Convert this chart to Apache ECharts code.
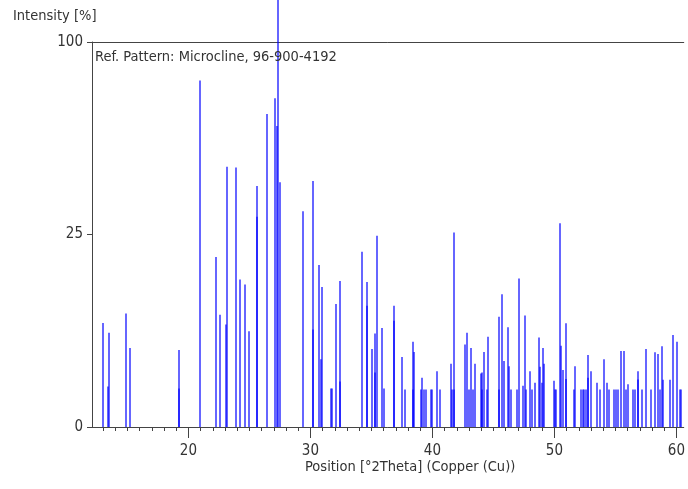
<!DOCTYPE html>
<html lang="en">
  <head>
    <meta charset="UTF-8" />
    <title>Microcline reference pattern</title>
    <style>
      html, body { margin: 0; padding: 0; background: #fff; }
      #chart { width: 688px; height: 489px; }
    </style>
  </head>
  <body>
    <div id="chart"></div>
    <script src="https://cdn.jsdelivr.net/npm/echarts@6/dist/echarts.min.js"></script>
    <script>
      // peak positions [°2Theta] and relative intensities [%]
      var peakPositions = [
        12.97, 13.43, 13.48, 14.85, 15.18, 19.2, 19.25, 20.97, 22.25, 22.6,
        23.05, 23.13, 23.9, 24.22, 24.66, 24.93, 25.59, 25.62, 26.46, 27.09,
        27.28, 27.36, 27.5, 29.41, 30.2, 30.23, 30.7, 30.88, 30.92, 31.7,
        31.78, 32.12, 32.4, 32.45, 34.2, 34.6, 34.66, 35.07, 35.29, 35.33,
        35.5, 35.84, 36.05, 36.82, 36.85, 37.47, 37.72, 38.38, 38.43, 38.47,
        39.03, 39.14, 39.3, 39.45, 39.9, 40.0, 40.4, 40.64, 41.49, 41.6,
        41.74, 41.8, 42.69, 42.85, 43.0, 43.16, 43.34, 43.48, 43.95, 44.06,
        44.1, 44.25, 44.5, 44.57, 45.43, 45.48, 45.67, 45.89, 46.22, 46.26,
        46.46, 46.9, 47.09, 47.42, 47.56, 47.66, 47.99, 48.18, 48.4, 48.75,
        48.8, 48.98, 49.08, 49.13, 49.93, 50.03, 50.13, 50.48, 50.52, 50.72,
        50.92, 50.97, 51.62, 51.7, 52.2, 52.33, 52.45, 52.57, 52.72, 52.76,
        52.99, 53.46, 53.7, 54.08, 54.33, 54.47, 54.9, 55.05, 55.2, 55.42,
        55.67, 55.86, 56.05, 56.46, 56.6, 56.82, 56.87, 57.15, 57.5, 57.89,
        58.24, 58.46, 58.62, 58.84, 58.88, 59.47, 59.69, 60.02, 60.3, 60.4
      ];
      var peakIntensities = [
        7.3, 1.1, 6.0, 8.7, 4.2, 4.0, 1.0, 81, 19.5, 8.5,
        7.1, 45.7, 45.4, 14.7, 13.7, 6.2, 39.2, 29.8, 66.1, 72.9,
        61.1, 100, 40.4, 31.4, 6.4, 40.8, 17.7, 3.1, 13.2, 1.0,
        1.0, 10.2, 1.4, 14.4, 20.7, 14.2, 9.9, 4.1, 5.9, 2.0,
        24.7, 6.6, 1.0, 9.9, 7.6, 3.3, 0.95, 0.95, 4.9, 3.8,
        0.95, 1.64, 0.95, 0.95, 0.95, 0.95, 2.1, 0.95, 2.7, 0.95,
        25.5, 0.95, 4.6, 6.0, 0.95, 4.2, 0.95, 2.7, 1.94, 2.0,
        0.95, 3.8, 0.95, 5.5, 8.2, 0.95, 11.9, 2.94, 6.7, 2.5,
        0.95, 0.95, 14.9, 1.15, 8.4, 0.95, 2.1, 0.95, 1.32, 5.4,
        2.45, 1.32, 4.2, 2.7, 1.45, 0.95, 0.95, 28.0, 4.46, 2.2,
        7.25, 1.55, 0.95, 2.5, 0.95, 0.95, 0.95, 0.95, 3.5, 1.64,
        2.1, 1.32, 0.95, 3.1, 1.32, 0.95, 0.95, 0.95, 0.95, 3.9,
        3.9, 0.95, 1.23, 0.95, 0.95, 2.1, 1.53, 0.95, 4.1, 0.95,
        3.76, 3.6, 0.95, 4.4, 1.5, 1.5, 5.7, 4.9, 0.95, 0.95
      ];
      var majorTicks = [20, 30, 40, 50, 60];
      var minorTicks = [];
      for (var t = 13; t <= 60; t++) minorTicks.push(t);

      var font = '"Liberation Sans Narrow", "DejaVu Sans Condensed", sans-serif';
      var textColor = '#333';
      var axisColor = '#444';

      // intensity axis is square-root scaled
      var seriesData = peakPositions.map(function (p, i) {
        return [p, Math.sqrt(peakIntensities[i])];
      });

      var chart = echarts.init(document.getElementById('chart'));
      chart.setOption({
        animation: false,
        title: [
          { text: 'Intensity [%]', left: 13, top: 9, padding: 0,
            textStyle: { fontFamily: font, fontSize: 14.5, fontWeight: 'normal', color: textColor } },
          { text: 'Ref. Pattern: Microcline, 96-900-4192', left: 95, top: 50, padding: 0,
            textStyle: { fontFamily: font, fontSize: 14.5, fontWeight: 'normal', color: textColor } },
          { text: 'Position [°2Theta] (Copper (Cu))', left: 305, top: 460, padding: 0,
            textStyle: { fontFamily: font, fontSize: 14.5, fontWeight: 'normal', color: textColor } }
        ],
        grid: { left: 92, top: 42, right: 0, bottom: 62 },
        xAxis: [
          {
            type: 'value', min: 12.1, max: 60.6, position: 'bottom',
            axisLine: { show: true, lineStyle: { color: axisColor } },
            axisTick: { show: true, customValues: majorTicks, length: 11, lineStyle: { color: axisColor } },
            axisLabel: { customValues: majorTicks, margin: 17, fontFamily: font, fontSize: 15, color: textColor },
            splitLine: { show: false }
          },
          {
            type: 'value', min: 12.1, max: 60.6, position: 'bottom',
            axisLine: { show: false },
            axisTick: { show: true, customValues: minorTicks, length: 4, lineStyle: { color: axisColor } },
            axisLabel: { show: false },
            splitLine: { show: false }
          },
          {
            // top frame line only
            type: 'value', min: 12.1, max: 60.6, position: 'top',
            axisLine: { show: true, lineStyle: { color: axisColor } },
            axisTick: { show: false },
            axisLabel: { show: false },
            splitLine: { show: false }
          }
        ],
        yAxis: {
          type: 'value', min: 0, max: 10, interval: 5,
          axisLine: { show: true, lineStyle: { color: axisColor } },
          axisTick: { show: true, length: 5, lineStyle: { color: axisColor } },
          axisLabel: {
            margin: 9, fontFamily: font, fontSize: 15, color: textColor,
            formatter: function (v) { return String(Math.round(v * v)); }
          },
          splitLine: { show: false }
        },
        series: [{
          type: 'custom',
          xAxisIndex: 0,
          clip: false,
          data: seriesData,
          renderItem: function (params, api) {
            var x = api.value(0), s = api.value(1);
            var top = api.coord([x, s]);
            var base = api.coord([x, 0]);
            var px = Math.round(top[0]);
            var y1 = s >= 10 ? 0 : top[1]; // strongest line runs past the frame
            return {
              type: 'line',
              shape: { x1: px, y1: y1, x2: px, y2: base[1] },
              style: { stroke: 'rgba(0,0,255,0.6)', lineWidth: 2 }
            };
          }
        }]
      });
    </script>
  </body>
</html>
